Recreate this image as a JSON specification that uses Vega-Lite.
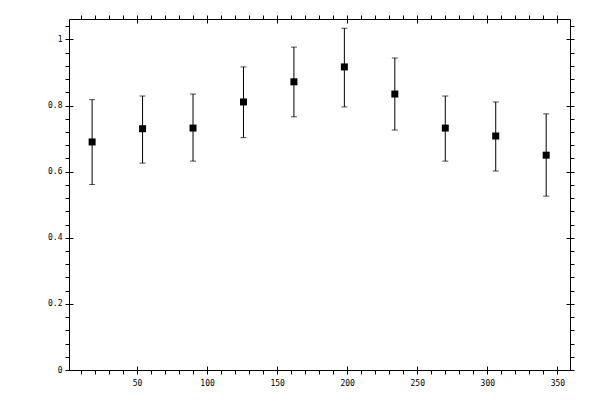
{
  "$schema": "https://vega.github.io/schema/vega-lite/v6.json",
  "autosize": "none",
  "padding": {"left": 69, "top": 19, "right": 30, "bottom": 30},
  "width": 501,
  "height": 351,
  "background": "white",
  "data": {
    "values": [
      {"angle": 18, "value": 0.690, "lo": 0.561, "hi": 0.818},
      {"angle": 54, "value": 0.730, "lo": 0.626, "hi": 0.829},
      {"angle": 90, "value": 0.732, "lo": 0.632, "hi": 0.835},
      {"angle": 126, "value": 0.811, "lo": 0.703, "hi": 0.917},
      {"angle": 162, "value": 0.872, "lo": 0.766, "hi": 0.977},
      {"angle": 198, "value": 0.917, "lo": 0.796, "hi": 1.034},
      {"angle": 234, "value": 0.835, "lo": 0.726, "hi": 0.944},
      {"angle": 270, "value": 0.732, "lo": 0.632, "hi": 0.829},
      {"angle": 306, "value": 0.708, "lo": 0.602, "hi": 0.811},
      {"angle": 342, "value": 0.650, "lo": 0.526, "hi": 0.775}
    ]
  },
  "resolve": {"axis": {"x": "independent", "y": "independent"}},
  "layer": [
    {
      "mark": {"type": "rule", "color": "black", "strokeWidth": 1},
      "encoding": {
        "x": {
          "field": "angle", "type": "quantitative",
          "scale": {"domain": [1.5, 359], "nice": false, "zero": false},
          "axis": {
            "orient": "bottom", "title": null, "tickSize": 4, "labelPadding": 5,
            "values": [10,20,30,40,50,60,70,80,90,100,110,120,130,140,150,160,170,180,190,200,210,220,230,240,250,260,270,280,290,300,310,320,330,340,350],
            "labelExpr": "datum.value % 50 == 0 ? datum.label : ''"
          }
        },
        "y": {
          "field": "lo", "type": "quantitative",
          "scale": {"domain": [0, 1.062], "nice": false, "zero": false},
          "axis": {
            "orient": "left", "title": null, "tickSize": 4, "labelPadding": 3,
            "values": [0,0.04,0.08,0.12,0.16,0.2,0.24,0.28,0.32,0.36,0.4,0.44,0.48,0.52,0.56,0.6,0.64,0.68,0.72,0.76,0.8,0.84,0.88,0.92,0.96,1,1.04],
            "labelExpr": "abs(datum.value * 5 - round(datum.value * 5)) < 0.000001 ? format(datum.value, '.1~f') : ''"
          }
        },
        "y2": {"field": "hi"}
      }
    },
    {
      "mark": {"type": "tick", "orient": "horizontal", "color": "black", "size": 6, "thickness": 1},
      "encoding": {
        "x": {
          "field": "angle", "type": "quantitative",
          "scale": {"domain": [1.5, 359], "nice": false, "zero": false},
          "axis": {
            "orient": "top", "title": null, "tickSize": 4, "labels": false,
            "values": [10,20,30,40,50,60,70,80,90,100,110,120,130,140,150,160,170,180,190,200,210,220,230,240,250,260,270,280,290,300,310,320,330,340,350]
          }
        },
        "y": {
          "field": "hi", "type": "quantitative",
          "scale": {"domain": [0, 1.062], "nice": false, "zero": false},
          "axis": {
            "orient": "right", "title": null, "tickSize": 4, "labels": false,
            "values": [0,0.04,0.08,0.12,0.16,0.2,0.24,0.28,0.32,0.36,0.4,0.44,0.48,0.52,0.56,0.6,0.64,0.68,0.72,0.76,0.8,0.84,0.88,0.92,0.96,1,1.04]
          }
        }
      }
    },
    {
      "mark": {"type": "tick", "orient": "horizontal", "color": "black", "size": 6, "thickness": 1},
      "encoding": {
        "x": {
          "field": "angle", "type": "quantitative",
          "scale": {"domain": [1.5, 359], "nice": false, "zero": false},
          "axis": {
            "orient": "bottom", "title": null, "tickSize": -4, "labels": false,
            "values": [50,100,150,200,250,300,350]
          }
        },
        "y": {
          "field": "lo", "type": "quantitative",
          "scale": {"domain": [0, 1.062], "nice": false, "zero": false},
          "axis": {
            "orient": "left", "title": null, "tickSize": -4, "labels": false,
            "values": [0,0.2,0.4,0.6,0.8,1]
          }
        }
      }
    },
    {
      "mark": {"type": "point", "shape": "square", "filled": true, "color": "black", "opacity": 1, "size": 49},
      "encoding": {
        "x": {
          "field": "angle", "type": "quantitative",
          "scale": {"domain": [1.5, 359], "nice": false, "zero": false},
          "axis": {
            "orient": "top", "title": null, "tickSize": -4, "labels": false,
            "values": [50,100,150,200,250,300,350]
          }
        },
        "y": {
          "field": "value", "type": "quantitative",
          "scale": {"domain": [0, 1.062], "nice": false, "zero": false},
          "axis": {
            "orient": "right", "title": null, "tickSize": -4, "labels": false,
            "values": [0,0.2,0.4,0.6,0.8,1]
          }
        }
      }
    }
  ],
  "config": {
    "view": {"stroke": "black", "strokeWidth": 1},
    "axis": {
      "grid": false,
      "domain": false,
      "tickColor": "black",
      "tickWidth": 1,
      "labelColor": "black",
      "labelFont": "DejaVu Sans Mono",
      "labelFontSize": 8
    }
  }
}
